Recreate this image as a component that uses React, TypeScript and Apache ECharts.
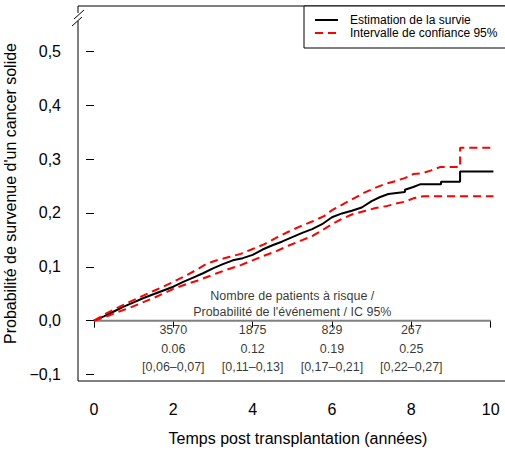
import React, { useEffect, useRef } from "react";
import * as echarts from "echarts";

// ---- Data ----
const xTicks = [0, 2, 4, 6, 8, 10];
const yTicks = [-0.1, 0, 0.1, 0.2, 0.3, 0.4, 0.5];

// repeated times mark the vertical jumps of the step curves
const estTimes = [0, 0.25, 0.5, 0.75, 1.0, 1.25, 1.5, 1.75, 2.0, 2.25, 2.5, 2.75, 3.0, 3.25, 3.5, 3.75, 4.0, 4.25, 4.5, 4.75, 5.0, 5.25, 5.5, 5.75, 6.0, 6.25, 6.5, 6.75, 7.0, 7.2, 7.42, 7.84, 7.84, 8.05, 8.22, 8.75, 8.75, 9.23, 9.23, 10.07];
const estValues = [0, 0.008, 0.017, 0.026, 0.034, 0.042, 0.049, 0.056, 0.063, 0.072, 0.08, 0.088, 0.097, 0.105, 0.112, 0.116, 0.122, 0.132, 0.14, 0.147, 0.155, 0.163, 0.17, 0.179, 0.192, 0.199, 0.204, 0.21, 0.222, 0.229, 0.235, 0.239, 0.243, 0.248, 0.253, 0.253, 0.258, 0.258, 0.277, 0.277];

const upperTimes = [0, 0.3, 0.6, 0.9, 1.2, 1.5, 1.8, 2.0, 2.3, 2.6, 2.85, 3.1, 3.4, 3.7, 4.0, 4.3, 4.6, 4.9, 5.2, 5.5, 5.8, 6.0, 6.25, 6.5, 6.8, 7.1, 7.35, 7.6, 7.85, 8.05, 8.3, 8.5, 8.72, 9.23, 9.23, 10.07];
const upperValues = [0, 0.013, 0.024, 0.035, 0.045, 0.055, 0.065, 0.072, 0.083, 0.095, 0.106, 0.112, 0.118, 0.124, 0.133, 0.142, 0.154, 0.165, 0.175, 0.184, 0.194, 0.205, 0.215, 0.225, 0.237, 0.247, 0.254, 0.259, 0.265, 0.272, 0.274, 0.279, 0.285, 0.285, 0.321, 0.321];

const lowerTimes = [0, 0.3, 0.6, 0.9, 1.2, 1.5, 1.8, 2.0, 2.3, 2.6, 2.85, 3.1, 3.4, 3.7, 4.0, 4.3, 4.6, 4.9, 5.2, 5.5, 5.8, 6.0, 6.25, 6.5, 6.8, 7.1, 7.4, 7.6, 7.85, 8.05, 8.3, 10.07];
const lowerValues = [0, 0.007, 0.016, 0.024, 0.033, 0.042, 0.052, 0.059, 0.067, 0.074, 0.081, 0.088, 0.096, 0.103, 0.112, 0.121, 0.129, 0.139, 0.148, 0.157, 0.17, 0.179, 0.189, 0.197, 0.203, 0.209, 0.213, 0.217, 0.221, 0.227, 0.231, 0.231];

const tableTimes = [2, 4, 6, 8];
const atRisk = ["3570", "1875", "829", "267"];
const eventProb = ["0.06", "0.12", "0.19", "0.25"];
const ciLabels = ["[0,06–0,07]", "[0,11–0,13]", "[0,17–0,21]", "[0,22–0,27]"];
const tableHeader = "Nombre de patients à risque /\nProbabilité de l'événement / IC 95%";
const tableHeaderPos = [5, 0.031];
const tableRowY = [-0.018, -0.052, -0.086];
const baseline = [[0, 0], [10, 0]];

const seriesNames = ["Estimation de la survie", "Intervalle de confiance 95%"];
const xTitle = "Temps post transplantation (années)";
const yTitle = "Probabilité de survenue d'un cancer solide";

const FONT = "'Liberation Sans', Arial, Helvetica, sans-serif";

export default function App() {
  const ref = useRef<HTMLDivElement>(null);
  useEffect(() => {
    if (!ref.current) return;
    const chart = echarts.init(ref.current, null, { renderer: "svg" });
    const zip = (t: number[], v: number[]) => t.map((x, i) => [x, v[i]]);
    const tableData: any[] = [];
    [atRisk, eventProb, ciLabels].forEach((row, r) => {
      row.forEach((txt, i) => tableData.push([tableTimes[i], tableRowY[r], txt]));
    });
    const option: any = {
      animation: false,
      textStyle: { fontFamily: FONT },
      grid: {
        left: 78,
        top: 6,
        width: 440,
        height: 375,
        outerBoundsMode: "none",
        containLabel: false,
        show: true,
        borderColor: "#000",
        borderWidth: 1,
        backgroundColor: "transparent",
      },
      legend: {
        left: 304,
        top: 6,
        orient: "vertical",
        data: seriesNames,
        borderColor: "#000",
        borderWidth: 1,
        borderRadius: 0,
        backgroundColor: "#fff",
        padding: [8, 40, 9, 10],
        itemWidth: 23,
        itemHeight: 12,
        itemGap: 1,
        itemStyle: { opacity: 0 },
        textStyle: { fontSize: 12, color: "#000", fontFamily: FONT, padding: [0, 0, 0, 7] },
      },
      xAxis: {
        type: "value",
        min: -0.403,
        max: 10.69,
        axisLine: { show: false },
        splitLine: { show: false },
        axisTick: { show: true, inside: false, length: 7, customValues: xTicks, lineStyle: { color: "#000" } },
        axisLabel: {
          customValues: xTicks,
          margin: 20,
          fontSize: 16,
          color: "#000",
          fontFamily: FONT,
          formatter: (v: number) => String(v),
        },
        name: xTitle,
        nameLocation: "middle",
        nameGap: 49,
        nameTextStyle: { fontSize: 16, color: "#000", fontFamily: FONT },
      },
      yAxis: {
        type: "value",
        min: -0.112,
        max: 0.584,
        axisLine: { show: false },
        splitLine: { show: false },
        axisTick: { show: true, inside: false, length: 8, customValues: yTicks, lineStyle: { color: "#000" } },
        axisLabel: {
          customValues: yTicks,
          margin: 17,
          fontSize: 16,
          color: "#000",
          fontFamily: FONT,
          formatter: (v: number) => v.toFixed(1).replace(".", ",").replace("-", "−"),
        },
        name: yTitle,
        nameLocation: "middle",
        nameRotate: 90,
        nameGap: 53,
        nameTextStyle: { fontSize: 16, color: "#000", fontFamily: FONT },
      },
      series: [
        {
          type: "line",
          name: "baseline",
          data: baseline,
          symbol: "none",
          silent: true,
          lineStyle: { color: "#808080", width: 2 },
          z: 1,
        },
        {
          type: "line",
          name: seriesNames[0],
          data: zip(estTimes, estValues),
          symbol: "none",
          itemStyle: { color: "#000" },
          lineStyle: { color: "#000", width: 2 },
          z: 2,
        },
        {
          type: "line",
          name: seriesNames[1],
          data: zip(upperTimes, upperValues),
          symbol: "none",
          itemStyle: { color: "#ff0000" },
          lineStyle: { color: "#ff0000", width: 2, type: [8, 5] },
          z: 3,
        },
        {
          type: "line",
          name: seriesNames[1],
          data: zip(lowerTimes, lowerValues),
          symbol: "none",
          itemStyle: { color: "#ff0000" },
          lineStyle: { color: "#ff0000", width: 2, type: [8, 5] },
          z: 3,
        },
        {
          type: "scatter",
          name: "header",
          symbolSize: 0,
          silent: true,
          data: [[tableHeaderPos[0], tableHeaderPos[1], tableHeader]],
          label: {
            show: true,
            position: "inside",
            formatter: (p: any) => p.data[2],
            fontSize: 12.5,
            lineHeight: 15.5,
            color: "#000",
            fontFamily: FONT,
            align: "center",
          },
        },
        {
          type: "scatter",
          name: "table",
          symbolSize: 0,
          silent: true,
          data: tableData,
          label: {
            show: true,
            position: "inside",
            formatter: (p: any) => p.data[2],
            fontSize: 12.5,
            color: "#000",
            fontFamily: FONT,
          },
        },
      ],
      graphic: [
        { type: "rect", shape: { x: 75, y: 13, width: 6, height: 8 }, style: { fill: "#fff" }, z: 100 },
        { type: "line", shape: { x1: 74, y1: 19, x2: 84, y2: 10 }, style: { stroke: "#000", lineWidth: 1 }, z: 101 },
        { type: "line", shape: { x1: 72, y1: 26, x2: 82, y2: 17 }, style: { stroke: "#000", lineWidth: 1 }, z: 101 },
      ],
    };
    chart.setOption(option);
    return () => chart.dispose();
  }, []);
  return (
    <div
      ref={ref}
      style={{ position: "fixed", left: 0, top: 0, width: 505, height: 452, background: "#fff" }}
    />
  );
}
